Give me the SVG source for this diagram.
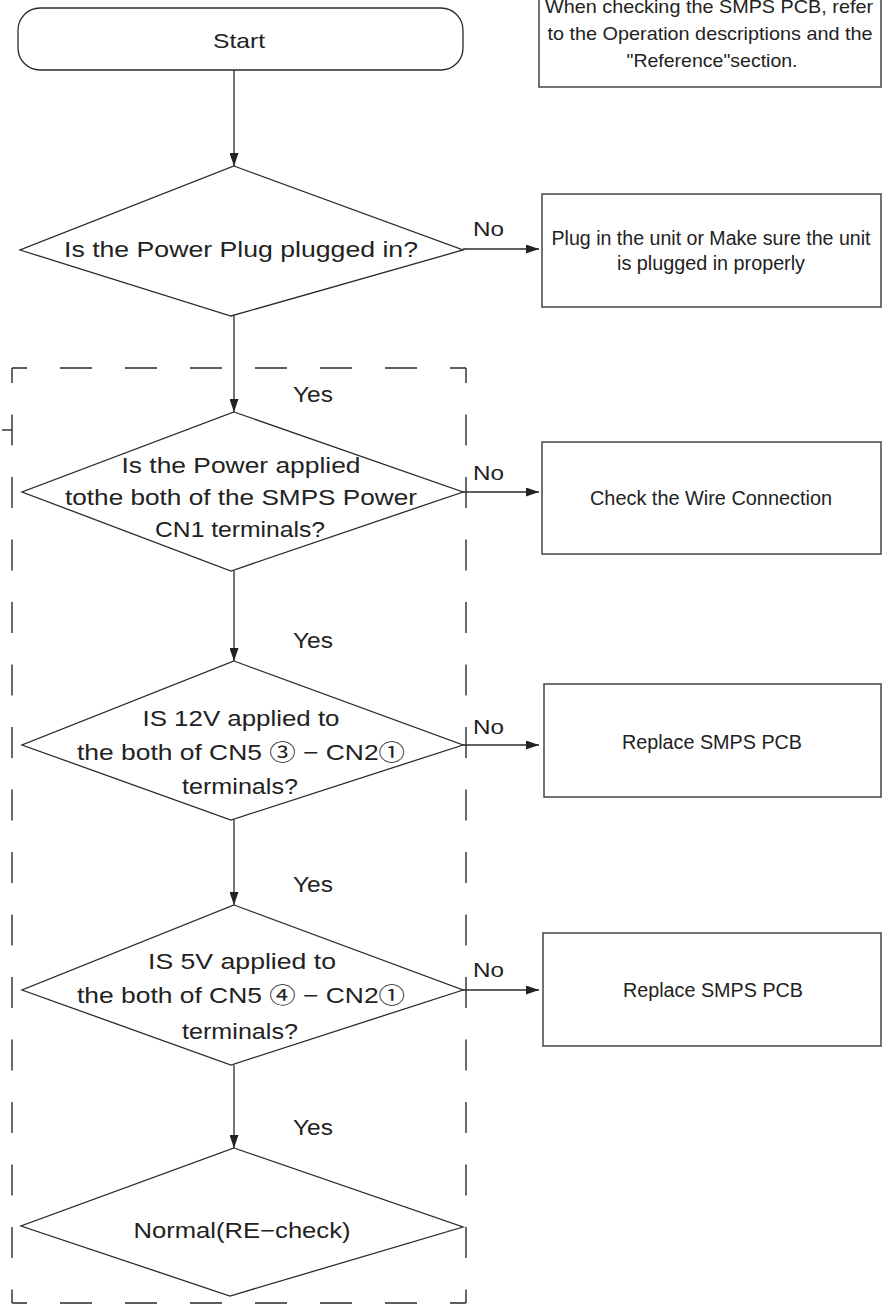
<svg xmlns="http://www.w3.org/2000/svg" width="882" height="1306" viewBox="0 0 882 1306">
<style>
.shape{fill:#fff;stroke:#2a2a2a;stroke-width:1.3}
.box{fill:#fff;stroke:#444;stroke-width:1.5}
.t{font-family:"Liberation Sans","Noto Sans CJK KR",sans-serif;fill:#222;text-anchor:middle}
.d{font-size:22px}
.b{font-size:20px}
.lbl{font-size:21px;text-anchor:start}
.conn{stroke:#2a2a2a;stroke-width:1.3;fill:none}
.dash{stroke:#2a2a2a;stroke-width:1.4;fill:none}
</style>
<defs>
<marker id="ah" markerUnits="userSpaceOnUse" markerWidth="13" markerHeight="9" refX="13" refY="4.5" orient="auto">
<path d="M0,0 L13,4.5 L0,9 z" fill="#222"/>
</marker>
</defs>
<rect width="882" height="1306" fill="#fff"/>

<g id="group-box">
<line class="dash" x1="12" y1="368" x2="466" y2="368" stroke-dasharray="32 33" stroke-dashoffset="17"/>
<line class="dash" x1="12" y1="1303" x2="466" y2="1303" stroke-dasharray="32 33" stroke-dashoffset="17"/>
<line class="dash" x1="12" y1="368" x2="12" y2="1303" stroke-dasharray="31 31.5" stroke-dashoffset="16"/>
<line class="dash" x1="466" y1="368" x2="466" y2="1303" stroke-dasharray="31 31.5" stroke-dashoffset="16"/>
<line class="dash" x1="2" y1="430" x2="12" y2="430"/>
</g>

<g id="connectors">
<line class="conn" x1="234" y1="70" x2="234" y2="166" marker-end="url(#ah)"/>
<line class="conn" x1="234" y1="316" x2="234" y2="412" marker-end="url(#ah)"/>
<line class="conn" x1="234" y1="571" x2="234" y2="661" marker-end="url(#ah)"/>
<line class="conn" x1="234" y1="820" x2="234" y2="905" marker-end="url(#ah)"/>
<line class="conn" x1="234" y1="1065" x2="234" y2="1148" marker-end="url(#ah)"/>
<line class="conn" x1="463" y1="249" x2="539" y2="249" marker-end="url(#ah)"/>
<line class="conn" x1="463" y1="492" x2="539" y2="492" marker-end="url(#ah)"/>
<line class="conn" x1="463" y1="745" x2="539" y2="745" marker-end="url(#ah)"/>
<line class="conn" x1="463" y1="990" x2="539" y2="990" marker-end="url(#ah)"/>
<text class="t lbl" x="473" y="236" textLength="31" lengthAdjust="spacingAndGlyphs">No</text>
<text class="t lbl" x="473" y="480" textLength="31" lengthAdjust="spacingAndGlyphs">No</text>
<text class="t lbl" x="473" y="734" textLength="31" lengthAdjust="spacingAndGlyphs">No</text>
<text class="t lbl" x="473" y="977" textLength="31" lengthAdjust="spacingAndGlyphs">No</text>
<text class="t lbl" x="293" y="402" textLength="40" lengthAdjust="spacingAndGlyphs" style="font-size:22px">Yes</text>
<text class="t lbl" x="293" y="648" textLength="40" lengthAdjust="spacingAndGlyphs" style="font-size:22px">Yes</text>
<text class="t lbl" x="293" y="892" textLength="40" lengthAdjust="spacingAndGlyphs" style="font-size:22px">Yes</text>
<text class="t lbl" x="293" y="1135" textLength="40" lengthAdjust="spacingAndGlyphs" style="font-size:22px">Yes</text>
</g>

<g id="note">
<rect class="box" x="539" y="-5" width="342" height="92"/>
<text class="t" style="font-size:19px" x="709" y="13" textLength="328" lengthAdjust="spacingAndGlyphs">When checking the SMPS PCB, refer</text>
<text class="t" style="font-size:19px" x="710" y="40" textLength="325" lengthAdjust="spacingAndGlyphs">to the Operation descriptions and the</text>
<text class="t" style="font-size:19px" x="712" y="67" textLength="171" lengthAdjust="spacingAndGlyphs">"Reference"section.</text>
</g>

<g id="start">
<rect class="shape" x="18" y="8" width="445" height="62" rx="22" ry="22"/>
<text class="t" style="font-size:21px" x="239" y="48" textLength="52" lengthAdjust="spacingAndGlyphs">Start</text>
</g>

<g id="q-plug">
<polygon class="shape" points="234,166 463,250 231,316 20,250"/>
<text class="t d" x="241" y="257" textLength="354" lengthAdjust="spacingAndGlyphs">Is the Power Plug plugged in?</text>
</g>

<g id="a-plug">
<rect class="box" x="542" y="194" width="339" height="113"/>
<text class="t b" x="711" y="245" textLength="319" lengthAdjust="spacingAndGlyphs">Plug in the unit or Make sure the unit</text>
<text class="t b" x="711" y="270" textLength="188" lengthAdjust="spacingAndGlyphs">is plugged in properly</text>
</g>

<g id="q-cn1">
<polygon class="shape" points="234,412 463,492 231,571 22,492"/>
<text class="t d" x="241" y="473" textLength="239" lengthAdjust="spacingAndGlyphs">Is the Power applied</text>
<text class="t d" x="241" y="505" textLength="352" lengthAdjust="spacingAndGlyphs">tothe both of the SMPS Power</text>
<text class="t d" x="240" y="537" textLength="170" lengthAdjust="spacingAndGlyphs">CN1 terminals?</text>
</g>

<g id="a-wire">
<rect class="box" x="542" y="442" width="339" height="112"/>
<text class="t b" x="711" y="505" textLength="242" lengthAdjust="spacingAndGlyphs">Check the Wire Connection</text>
</g>

<g id="q-12v">
<polygon class="shape" points="234,661 463,745 231,820 22,745"/>
<text class="t d" x="241" y="726" textLength="197" lengthAdjust="spacingAndGlyphs">IS 12V applied to</text>
<text class="t d" x="241" y="760" textLength="328" lengthAdjust="spacingAndGlyphs">the both of CN5 ③ − CN2①</text>
<text class="t d" x="240" y="794" textLength="116" lengthAdjust="spacingAndGlyphs">terminals?</text>
</g>

<g id="a-smps1">
<rect class="box" x="544" y="684" width="337" height="113"/>
<text class="t b" x="712" y="749" textLength="180" lengthAdjust="spacingAndGlyphs">Replace SMPS PCB</text>
</g>

<g id="q-5v">
<polygon class="shape" points="234,905 463,990 231,1065 22,990"/>
<text class="t d" x="242" y="969" textLength="188" lengthAdjust="spacingAndGlyphs">IS 5V applied to</text>
<text class="t d" x="241" y="1003" textLength="328" lengthAdjust="spacingAndGlyphs">the both of CN5 ④ − CN2①</text>
<text class="t d" x="240" y="1039" textLength="116" lengthAdjust="spacingAndGlyphs">terminals?</text>
</g>

<g id="a-smps2">
<rect class="box" x="543" y="933" width="338" height="113"/>
<text class="t b" x="713" y="997" textLength="180" lengthAdjust="spacingAndGlyphs">Replace SMPS PCB</text>
</g>

<g id="normal">
<polygon class="shape" points="234,1148 463,1227 230,1296 21,1226"/>
<text class="t d" x="242" y="1238" textLength="217" lengthAdjust="spacingAndGlyphs">Normal(RE−check)</text>
</g>
</svg>
